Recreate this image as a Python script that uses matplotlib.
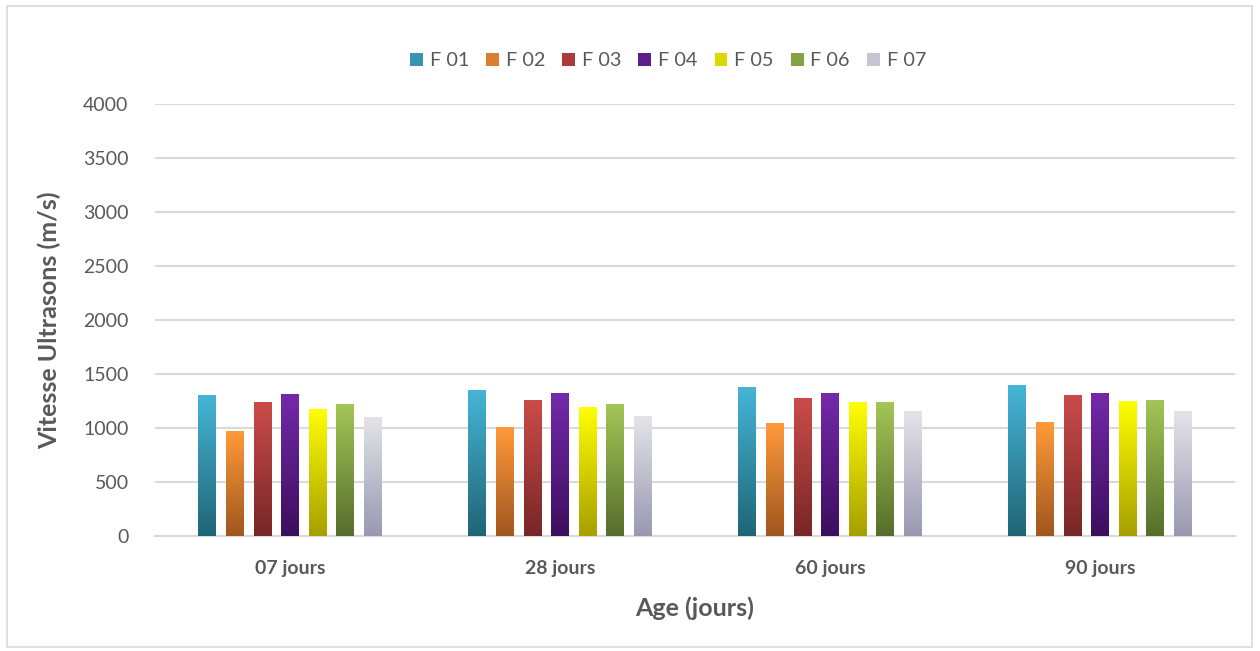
import numpy as np
import matplotlib
matplotlib.use("Agg")
import matplotlib.pyplot as plt
from matplotlib.colors import LinearSegmentedColormap
from matplotlib.patches import Patch, Rectangle

plt.rcParams['font.family'] = ['Lato', 'DejaVu Sans']

ages = ["07 jours", "28 jours", "60 jours", "90 jours"]
series = ["F 01", "F 02", "F 03", "F 04", "F 05", "F 06", "F 07"]

f01 = [1305, 1352, 1379, 1398]
f02 = [971, 1008, 1045, 1055]
f03 = [1240, 1259, 1277, 1305]
f04 = [1315, 1324, 1324, 1324]
f05 = [1175, 1194, 1240, 1250]
f06 = [1222, 1222, 1240, 1259]
f07 = [1101, 1110, 1157, 1157]
values = [f01, f02, f03, f04, f05, f06, f07]

# (top colour, bottom colour) of each series' vertical gradient
top_colors = ["#46B5D7", "#FF9A3A", "#CB4C4A", "#7429AA", "#FFFF00", "#A3C655", "#E4E4E8"]
bottom_colors = ["#1F6575", "#A0561E", "#782626", "#3C0F5E", "#A79F00", "#556E2C", "#9898B2"]

fig = plt.figure(figsize=(12.6, 6.51), dpi=100)
fig.patches.append(Rectangle((7 / 1260, 4 / 651), 1245 / 1260, 641 / 651,
                             transform=fig.transFigure, fill=False,
                             edgecolor="#D9D9D9", linewidth=1.2))

ax = fig.add_axes([155 / 1260, 1 - 536 / 651, 1080 / 1260, 432 / 651])

x = np.arange(len(ages))
step = 0.102
width = 0.066
offsets = (np.arange(len(series)) - (len(series) - 1) / 2) * step

grad = np.linspace(1, 0, 256).reshape(-1, 1)
for i, name in enumerate(series):
    cmap = LinearSegmentedColormap.from_list(name, [bottom_colors[i], top_colors[i]])
    bars = ax.bar(x + offsets[i], values[i], width=width, color="none",
                  edgecolor="none", zorder=3)
    for b in bars:
        x0, y0 = b.get_x(), b.get_y()
        w, h = b.get_width(), b.get_height()
        im = ax.imshow(grad, cmap=cmap, extent=(x0, x0 + w, y0, y0 + h),
                       aspect="auto", zorder=3, interpolation="bilinear")
        im.set_clip_path(b)

ax.set_xlim(-0.5, len(ages) - 0.5)
ax.set_ylim(0, 4000)
ax.set_yticks(np.arange(0, 4001, 500))
ax.yaxis.grid(True, color="#D9D9D9", linewidth=1.5, zorder=0)
ax.set_axisbelow(True)
for s in ["top", "right", "left"]:
    ax.spines[s].set_visible(False)
ax.spines["bottom"].set_color("#D9D9D9")
ax.spines["bottom"].set_linewidth(1.5)
ax.tick_params(axis="both", length=0, colors="#595959")
ax.tick_params(axis="y", labelsize=14, pad=19)
ax.tick_params(axis="x", labelsize=14, pad=17)
ax.set_xticks(x)
ax.set_xticklabels(ages, fontweight="bold")

ax.set_xlabel("Age (jours)", fontsize=18, fontweight="bold", color="#595959", labelpad=14)
ax.set_ylabel("Vitesse Ultrasons (m/s)", fontsize=18, fontweight="bold", color="#595959", labelpad=16)

handles = [Patch(facecolor=LinearSegmentedColormap.from_list("m", [bottom_colors[i], top_colors[i]])(0.6),
                 edgecolor="none") for i in range(len(series))]
leg = fig.legend(handles, series, loc="center", bbox_to_anchor=(668 / 1260, 1 - 61 / 651),
                 ncol=len(series), frameon=False, fontsize=14.3, handlelength=0.65,
                 handleheight=0.65, handletextpad=0.35, columnspacing=0.85)
for t in leg.get_texts():
    t.set_color("#595959")

fig.savefig("out.png", dpi=100)
